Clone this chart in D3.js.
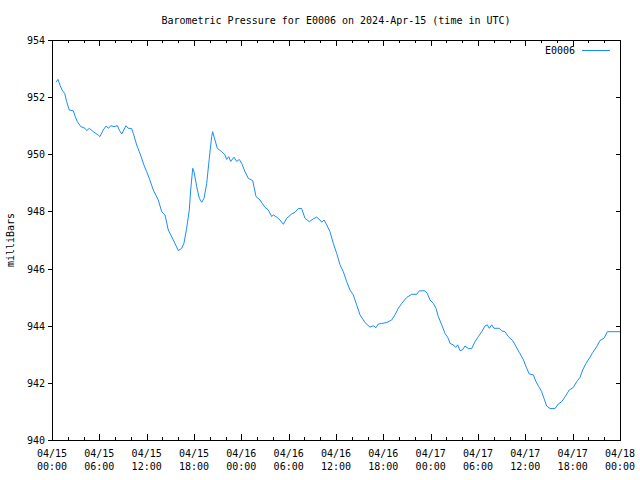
<!DOCTYPE html>
<html><head><meta charset="utf-8">
<script src="https://cdn.jsdelivr.net/npm/d3@7"></script>
<style>
html,body{margin:0;padding:0;background:#fff;}
svg text{font-family:"DejaVu Sans Mono","Liberation Mono",monospace;font-size:10px;fill:#000;}
</style></head>
<body>
<svg id="chart" width="640" height="480"></svg>
<script>
const titleText = "Barometric Pressure for E0006 on 2024-Apr-15 (time in UTC)";
const seriesName = "E0006";
const yLabel = "milliBars";
const startTime = "2024-04-15T00:00:00Z";
const endTime = "2024-04-18T00:00:00Z";
const yTicks = [940, 942, 944, 946, 948, 950, 952, 954];
// hours since start
const hours = [0.51,0.76,1.01,1.27,1.61,1.86,2.19,2.70,2.95,3.21,3.64,4.18,4.40,4.73,5.24,5.87,6.08,6.50,6.85,7.14,7.44,7.86,8.28,8.53,8.84,9.38,9.67,10.10,10.31,10.74,11.07,11.37,11.66,12.00,12.33,12.84,13.47,13.91,14.32,14.74,15.38,16.01,16.44,16.73,17.07,17.40,17.58,17.84,18.00,18.34,18.67,18.98,19.27,19.61,19.94,20.24,20.37,20.66,20.95,21.51,21.93,22.14,22.40,22.65,23.07,23.41,23.74,24.05,24.46,24.88,25.44,25.86,26.37,27.00,27.42,27.85,28.05,28.48,28.90,29.32,29.75,30.38,30.80,31.22,31.65,32.07,32.62,33.12,33.55,33.97,34.19,34.48,34.82,35.24,35.66,36.09,36.51,36.93,37.36,37.77,38.19,38.62,39.04,39.68,40.31,40.73,41.07,41.36,41.79,42.43,43.06,43.48,43.90,44.33,44.96,45.60,46.23,46.56,47.28,47.57,47.92,48.33,48.68,48.97,49.40,49.82,50.23,50.45,50.87,51.17,51.42,51.72,52.01,52.35,52.77,53.20,53.62,54.04,54.47,54.89,55.18,55.43,55.74,56.03,56.70,57.00,57.42,57.84,58.40,58.82,59.24,59.74,60.08,60.50,61.01,61.35,61.77,62.07,62.36,62.71,63.13,63.76,64.18,64.61,65.03,65.57,66.08,66.51,66.93,67.27,67.69,68.11,68.54,69.05,69.46,69.97,70.39,72.00];
const pressure = [952.52,952.62,952.42,952.25,952.13,951.84,951.55,951.52,951.32,951.14,950.97,950.91,950.83,950.91,950.79,950.67,950.62,950.85,950.99,950.91,951.00,950.97,951.00,950.85,950.71,951.00,950.91,950.90,950.73,950.32,950.09,949.86,949.62,949.39,949.16,948.75,948.40,947.99,947.88,947.35,947.00,946.63,946.71,946.89,947.41,948.05,948.75,949.51,949.39,948.87,948.46,948.32,948.46,948.98,949.86,950.62,950.79,950.50,950.21,950.09,949.98,949.82,949.92,949.75,949.90,949.75,949.82,949.68,949.39,949.16,949.08,948.52,948.40,948.14,948.05,947.82,947.88,947.80,947.70,947.55,947.76,947.91,947.97,948.10,948.10,947.76,947.64,947.74,947.80,947.70,947.62,947.70,947.53,947.29,946.88,946.53,946.13,945.89,945.54,945.25,945.08,944.73,944.38,944.11,943.95,944.00,943.93,944.06,944.08,944.11,944.20,944.38,944.61,944.78,944.99,945.10,945.10,945.22,945.22,945.13,944.90,944.78,944.61,944.32,944.03,943.73,943.56,943.38,943.33,943.24,943.33,943.13,943.15,943.29,943.20,943.20,943.44,943.62,943.79,943.99,944.03,943.91,944.03,943.91,943.91,943.82,943.79,943.62,943.48,943.27,943.06,942.82,942.57,942.31,942.28,942.04,941.84,941.69,941.46,941.19,941.10,941.10,941.26,941.34,941.51,941.75,941.84,942.04,942.19,942.45,942.68,942.86,943.06,943.27,943.48,943.56,943.79,943.79];

const svg = d3.select("#chart");
const L = 52, R = 620, T = 40, B = 440;
const t0 = new Date(startTime), t1 = new Date(endTime);
const x = d3.scaleUtc().domain([t0, t1]).range([L, R]);
const y = d3.scaleLinear().domain([940, 954]).range([B, T]);
const data = hours.map((h, i) => ({t: new Date(+t0 + h * 3600e3), p: pressure[i]}));

const g = svg.append("g").attr("shape-rendering", "crispEdges");
const majorX = d3.utcHour.every(6).range(t0, new Date(+t1 + 1));
const minorX = d3.utcHour.every(2).range(t0, new Date(+t1 + 1)).filter(d => d.getUTCHours() % 6 !== 0);
const px = v => Math.round(v) + 0.5;

// ticks bottom/top
majorX.forEach(d => {
  g.append("line").attr("x1", px(x(d))).attr("x2", px(x(d))).attr("y1", B).attr("y2", B - 6).attr("stroke", "#000");
  g.append("line").attr("x1", px(x(d))).attr("x2", px(x(d))).attr("y1", T).attr("y2", T + 6).attr("stroke", "#000");
});
minorX.forEach(d => {
  g.append("line").attr("x1", px(x(d))).attr("x2", px(x(d))).attr("y1", B).attr("y2", B - 3).attr("stroke", "#000");
  g.append("line").attr("x1", px(x(d))).attr("x2", px(x(d))).attr("y1", T).attr("y2", T + 3).attr("stroke", "#000");
});
// y ticks
yTicks.forEach(v => {
  g.append("line").attr("x1", L - 4).attr("x2", L).attr("y1", px(y(v))).attr("y2", px(y(v))).attr("stroke", "#000");
  g.append("line").attr("x1", R - 4).attr("x2", R).attr("y1", px(y(v))).attr("y2", px(y(v))).attr("stroke", "#000");
});
// border
g.append("rect").attr("x", L + 0.5).attr("y", T + 0.5).attr("width", R - L).attr("height", B - T)
  .attr("fill", "none").attr("stroke", "#000");

// y labels
svg.selectAll(".ylab").data(yTicks).enter().append("text")
  .attr("x", 45).attr("y", d => y(d) + 4).attr("text-anchor", "end").text(d => d);
// x labels
const fmtD = d3.utcFormat("%m/%d"), fmtT = d3.utcFormat("%H:%M");
majorX.forEach(d => {
  const tx = svg.append("text").attr("x", x(d)).attr("text-anchor", "middle");
  tx.append("tspan").attr("x", x(d)).attr("y", 457).text(fmtD(d));
  tx.append("tspan").attr("x", x(d)).attr("y", 470).text(fmtT(d));
});
// title
svg.append("text").attr("x", 336).attr("y", 24).attr("text-anchor", "middle").text(titleText);
// y axis label
svg.append("text").attr("transform", "translate(14,240) rotate(-90)").attr("text-anchor", "middle").text(yLabel);

// line
const color = "#1a8cff";
svg.append("path").datum(data)
  .attr("d", d3.line().x(d => x(d.t)).y(d => y(d.p)))
  .attr("fill", "none").attr("stroke", color).attr("stroke-width", 1);

// legend
svg.append("text").attr("x", 575).attr("y", 54).attr("text-anchor", "end").text(seriesName);
svg.append("line").attr("x1", 582).attr("x2", 610).attr("y1", 50.5).attr("y2", 50.5)
  .attr("stroke", color).attr("stroke-width", 1);
</script>
</body></html>
